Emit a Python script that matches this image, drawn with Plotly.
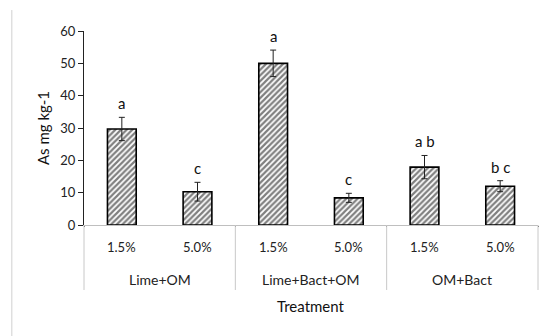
import plotly.graph_objects as go

groups = ["Lime+OM", "Lime+OM", "Lime+Bact+OM", "Lime+Bact+OM", "OM+Bact", "OM+Bact"]
doses = ["1.5%", "5.0%", "1.5%", "5.0%", "1.5%", "5.0%"]
values = [29.7, 10.3, 50.0, 8.4, 17.9, 12.0]
errors = [3.6, 2.9, 4.1, 1.4, 3.6, 1.7]
letters = ["a", "c", "a", "c", "a b", "b c"]
group_names = ["Lime+OM", "Lime+Bact+OM", "OM+Bact"]
y_ticks = [0, 10, 20, 30, 40, 50, 60]

FONT = "Lato"
TXT = "#222222"

fig = go.Figure()
fig.add_trace(go.Bar(
    x=[groups, doses],
    y=values,
    width=0.38,
    marker=dict(
        color="white",
        line=dict(color="black", width=1.6),
        pattern=dict(shape="/", fgcolor="#000000", bgcolor="white", size=4, solidity=0.55),
    ),
    error_y=dict(type="data", array=errors, visible=True, color="#222222", thickness=1, width=3),
    showlegend=False,
    hoverinfo="skip",
))

# significance letters
for g, d, v, e, t in zip(groups, doses, values, errors, letters):
    fig.add_annotation(
        x=[g, d], y=v + e, text=t, showarrow=False, xanchor="center", yanchor="bottom", yshift=3,
        font=dict(family=FONT, size=15, color="#111111"),
    )

# dose tick labels (first row of the category axis)
for g, d in zip(groups, doses):
    fig.add_annotation(
        x=[g, d], y=0, text=d, showarrow=False, xanchor="center", yanchor="middle", yshift=-22,
        font=dict(family=FONT, size=13, color=TXT),
    )

# group labels (second row) and dividers
n = len(group_names)
for i, gname in enumerate(group_names):
    fig.add_annotation(
        xref="paper", yref="paper", x=(i + 0.5) / n, y=-0.2835, text=gname,
        showarrow=False, xanchor="center", yanchor="middle",
        font=dict(family=FONT, size=14, color=TXT),
    )
for i in range(n + 1):
    fig.add_shape(type="line", xref="paper", yref="paper", x0=i / n, x1=i / n, y0=0, y1=-0.335,
                  line=dict(color="#c8c8c8", width=1))

# x-axis title
fig.add_annotation(
    xref="paper", yref="paper", x=0.5, y=-0.4175, text="Treatment", showarrow=False,
    xanchor="center", yanchor="middle", font=dict(family=FONT, size=15, color="#111111"),
)

# chart-area left border
fig.add_shape(type="line", xref="paper", yref="paper", x0=-0.159, x1=-0.159, y0=1.108, y1=-0.6,
              line=dict(color="#d0d0d0", width=1))

fig.update_layout(
    width=551, height=336,
    margin=dict(l=84, r=13, t=31, b=111),
    paper_bgcolor="white", plot_bgcolor="white",
    font=dict(family=FONT, size=12, color=TXT),
    bargap=0.62,
    hovermode=False,
)
fig.update_yaxes(
    range=[0, 60], tickvals=y_ticks, showgrid=False, zeroline=False, automargin=False,
    showline=True, linecolor="#222222", linewidth=1,
    ticks="outside", ticklen=5, tickcolor="#222222",
    tickfont=dict(family=FONT, size=13, color=TXT),
    title=dict(text="As mg kg-1", font=dict(family=FONT, size=15, color="#111111"), standoff=7),
)
fig.update_xaxes(
    showgrid=False, zeroline=False, showline=True, linecolor="#bfbfbf", linewidth=1,
    automargin=False, showticklabels=False, ticks="",
)

fig.write_html("out.html", config={"displayModeBar": False},
               post_script="document.body.style.margin='0';")
